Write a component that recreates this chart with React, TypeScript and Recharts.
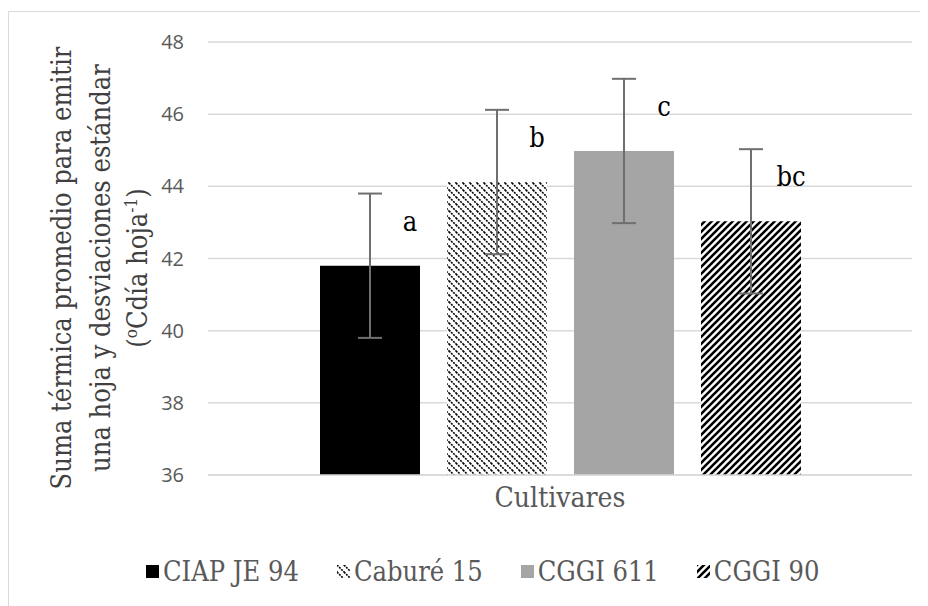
import { BarChart, Bar, XAxis, YAxis, CartesianGrid, ErrorBar, LabelList, Legend } from "recharts";

const categories = ["Cultivares"];
const cultivars = ["CIAP JE 94", "Caburé 15", "CGGI 611", "CGGI 90"];
const means = [41.8, 44.12, 44.98, 43.03];
const stdDevs = [2, 2, 2, 2];
const letters = ["a", "b", "c", "bc"];
const yTicks = [36, 38, 40, 42, 44, 46, 48];

const fills = ["#000000", "url(#dotLines)", "#a5a5a5", "url(#boldStripes)"];

const data = categories.map(name => {
    const row: any = { name };
    cultivars.forEach((_, i) => {
        row["v" + i] = means[i];
        row["e" + i] = stdDevs[i];
        row["l" + i] = letters[i];
    });
    return row;
});

const serif = "'DejaVu Serif Condensed', 'DejaVu Serif', serif";

function LetterLabel(props: any) {
    const { x, y, width, value } = props;
    return (
        <text x={x + width - 10} y={y - 35} textAnchor="middle" style={{ fontFamily: serif }} fontSize={27} fill="#000">
            {value}
        </text>
    );
}

function YLabel() {
    const cy = 260;
    return (
        <g style={{ fontFamily: serif }} fontSize={27} fill="#404040" textAnchor="middle">
            <text transform={`translate(63, ${cy}) rotate(-90)`}>Suma térmica promedio para emitir</text>
            <text transform={`translate(102, ${cy}) rotate(-90)`}>una hoja y desviaciones estándar</text>
            <text transform={`translate(139, ${cy}) rotate(-90)`}>
                (<tspan fontSize={17} baselineShift="super">o</tspan>Cdía hoja<tspan fontSize={17} baselineShift="super">-1</tspan>)
            </text>
        </g>
    );
}

function LegendContent() {
    return (
        <div style={{ display: "flex", alignItems: "center", gap: 38, fontFamily: serif, fontSize: 27, color: "#595959", whiteSpace: "nowrap" }}>
            {cultivars.map((c, i) => (
                <div key={c} style={{ display: "flex", alignItems: "center" }}>
                    <svg width={13} height={13} style={{ marginRight: 4 }}>
                        <rect width={13} height={13} fill={fills[i]} />
                    </svg>
                    <span>{c}</span>
                </div>
            ))}
        </div>
    );
}

export default function App() {
    return (
        <div style={{ position: "relative", width: 920, height: 598, overflow: "hidden", background: "#fff" }}>
            <div style={{ position: "absolute", top: 3, left: 0, width: 1000, height: 1000, border: "1.5px solid #d9d9d9" }} />
            <BarChart
                width={920}
                height={598}
                data={data}
                margin={{ top: 34, right: 16, left: 0, bottom: 0 }}
                barSize={100}
                barGap={27}
            >
                <defs>
                    <pattern id="dotLines" width={7} height={7} patternUnits="userSpaceOnUse">
                        <rect width={7} height={7} fill="#fff" />
                        <path d="M0,0 L7,7 M-1,6 L1,8 M6,-1 L8,1" stroke="#000" strokeWidth={1.6} strokeDasharray="2 1" />
                    </pattern>
                    <pattern id="boldStripes" width={7} height={7} patternUnits="userSpaceOnUse">
                        <rect width={7} height={7} fill="#fff" />
                        <path d="M0,7 L7,0 M-2,2 L2,-2 M5,9 L9,5" stroke="#000" strokeWidth={2.6} />
                    </pattern>
                </defs>
                <CartesianGrid horizontal vertical={false} stroke="#d9d9d9" strokeWidth={1.5} />
                <XAxis
                    dataKey="name"
                    height={131}
                    axisLine={{ stroke: "#d9d9d9", strokeWidth: 1.5 }}
                    tickLine={false}
                    tickSize={0}
                    tickMargin={12}
                    tick={{ style: { fontFamily: serif }, fontSize: 28, fill: "#595959" }}
                />
                <YAxis
                    width={200}
                    domain={[36, 48]}
                    ticks={yTicks}
                    axisLine={false}
                    tickLine={false}
                    tickSize={0}
                    tickMargin={24}
                    tick={{ fontFamily: "Open Sans", fontSize: 20, fill: "#595959" }}
                    label={<YLabel />}
                />
                <Legend
                    layout="horizontal"
                    verticalAlign="middle"
                    align="center"
                    wrapperStyle={{ top: 548, left: 138, width: "auto" }}
                    content={<LegendContent />}
                />
                {cultivars.map((c, i) => (
                    <Bar key={c} dataKey={"v" + i} name={c} fill={fills[i]} isAnimationActive={false}>
                        <ErrorBar dataKey={"e" + i} width={12} stroke="#6f6f6f" strokeWidth={2} />
                        <LabelList dataKey={"l" + i} content={<LetterLabel />} />
                    </Bar>
                ))}
            </BarChart>
        </div>
    );
}
